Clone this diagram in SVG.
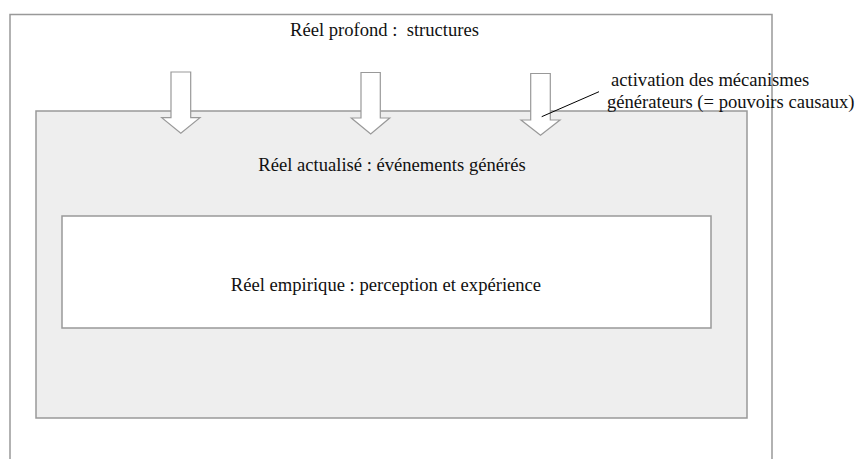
<svg xmlns="http://www.w3.org/2000/svg" width="855" height="459" viewBox="0 0 855 459">
<style>
.box{stroke:#999;stroke-width:1.5}
.arrow{fill:#fff;stroke:#999;stroke-width:1.2}
text{font-family:"Liberation Serif","Times New Roman",serif;font-size:18.6px;fill:#111;white-space:pre}
</style>
<rect width="855" height="459" fill="#fff"/>
<g id="reel-profond">
<path class="box" fill="none" d="M10,470 V14.5 H772 V470"/>
<text x="384.5" y="35.5" text-anchor="middle" xml:space="preserve">Réel profond :  structures</text>
</g>
<g id="reel-actualise">
<rect class="box" x="36" y="111" width="711" height="307" fill="#eee"/>
<text x="392" y="170.5" text-anchor="middle">Réel actualisé : événements générés</text>
</g>
<g id="reel-empirique">
<rect class="box" x="62" y="216" width="649" height="112" fill="#fff"/>
<text x="386" y="291" text-anchor="middle">Réel empirique : perception et expérience</text>
</g>
<g id="connectors">
<path class="arrow" d="M171,72 H190.7 V117.7 H200 L180.8,133.3 L161.7,117.7 H171 Z"/>
<path class="arrow" d="M361,72.5 H380.3 V118 H389.7 L370.7,134 L351.3,118 H361 Z"/>
<path class="arrow" d="M530.7,73.5 H550.3 V120 H560 L540.5,135.3 L521,120 H530.7 Z"/>
<line x1="541.7" y1="116.7" x2="599" y2="91.7" stroke="#000" stroke-width="1"/>
</g>
<g id="label">
<text x="611" y="86">activation des mécanismes</text>
<text x="607" y="107.5">générateurs (= pouvoirs causaux)</text>
</g>
</svg>
